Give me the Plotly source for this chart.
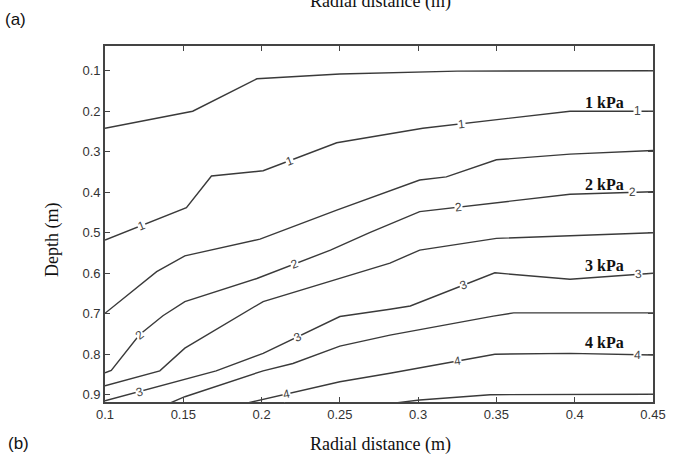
import numpy as np
import plotly.graph_objects as go

# Contour lines of induced stress (kPa): radial distance (m) vs depth (m)
r_05 = [0.10, 0.156, 0.197, 0.25, 0.325, 0.45]
d_05 = [0.242, 0.200, 0.120, 0.108, 0.101, 0.100]

r_1 = [0.10, 0.152, 0.168, 0.201, 0.248, 0.303, 0.397, 0.45]
d_1 = [0.518, 0.438, 0.360, 0.347, 0.278, 0.242, 0.200, 0.200]

r_15 = [0.10, 0.133, 0.151, 0.199, 0.248, 0.301, 0.318, 0.350, 0.397, 0.45]
d_15 = [0.699, 0.596, 0.557, 0.516, 0.444, 0.370, 0.362, 0.320, 0.306, 0.297]

r_2 = [0.10, 0.104, 0.122, 0.137, 0.151, 0.197, 0.244, 0.269, 0.301, 0.397, 0.45]
d_2 = [0.846, 0.840, 0.752, 0.705, 0.670, 0.613, 0.543, 0.500, 0.448, 0.405, 0.399]

r_25 = [0.10, 0.135, 0.151, 0.201, 0.282, 0.301, 0.350, 0.45]
d_25 = [0.878, 0.841, 0.785, 0.670, 0.575, 0.543, 0.514, 0.500]

r_3 = [0.10, 0.171, 0.201, 0.250, 0.282, 0.295, 0.349, 0.397, 0.45]
d_3 = [0.915, 0.841, 0.798, 0.707, 0.689, 0.681, 0.599, 0.615, 0.600]

r_35 = [0.140, 0.151, 0.201, 0.220, 0.250, 0.282, 0.348, 0.361, 0.45]
d_35 = [0.923, 0.905, 0.841, 0.823, 0.780, 0.753, 0.706, 0.698, 0.698]

r_4 = [0.188, 0.250, 0.282, 0.293, 0.349, 0.397, 0.45]
d_4 = [0.923, 0.868, 0.847, 0.839, 0.800, 0.798, 0.802]

r_45 = [0.28, 0.301, 0.346, 0.376, 0.45]
d_45 = [0.923, 0.913, 0.900, 0.900, 0.899]

contours = [(r_05, d_05), (r_1, d_1), (r_15, d_15), (r_2, d_2), (r_25, d_25),
            (r_3, d_3), (r_35, d_35), (r_4, d_4), (r_45, d_45)]

# In-line contour labels: (text, line index, radial position)
inline_labels = [
    ("1", 1, 0.123), ("1", 1, 0.218), ("1", 1, 0.328), ("1", 1, 0.440),
    ("2", 3, 0.122), ("2", 3, 0.221), ("2", 3, 0.326), ("2", 3, 0.437),
    ("3", 5, 0.122), ("3", 5, 0.223), ("3", 5, 0.329), ("3", 5, 0.441),
    ("4", 7, 0.216), ("4", 7, 0.325), ("4", 7, 0.440),
]

# Level annotations
kpa_text = ["1 kPa", "2 kPa", "3 kPa", "4 kPa"]
kpa_r = [0.419, 0.419, 0.419, 0.419]
kpa_d = [0.178, 0.380, 0.580, 0.770]

x_ticks = [0.1, 0.15, 0.2, 0.25, 0.3, 0.35, 0.4, 0.45]
x_ticktext = ["0.1", "0.15", "0.2", "0.25", "0.3", "0.35", "0.4", "0.45"]
y_ticks = [0.1, 0.2, 0.3, 0.4, 0.5, 0.6, 0.7, 0.8, 0.9]

W, H = 677, 457
ml, mr, mt, mb = 105, 24, 46, 55
pw, ph = W - ml - mr, H - mt - mb
x_range = [0.1, 0.45]
y_range = [0.918, 0.039]

px_per_x = pw / (x_range[1] - x_range[0])
px_per_y = ph / (y_range[0] - y_range[1])


def page_pos(px, py):
    """Page pixel position -> paper coordinates (relative to the plot area)."""
    return (px - ml) / pw, (H - mb - py) / ph


line_col = "#3a3a3a"
fig = go.Figure()
for r, d in contours:
    fig.add_trace(go.Scatter(x=r, y=d, mode="lines",
                             line=dict(color=line_col, width=1.4),
                             showlegend=False, hoverinfo="skip"))

annotations = []
for txt, idx, rx in inline_labels:
    r, d = contours[idx]
    dy = float(np.interp(rx, r, d))
    dy2 = float(np.interp(rx + 0.004, r, d))
    ang = np.degrees(np.arctan2((dy2 - dy) * px_per_y, 0.004 * px_per_x))
    annotations.append(dict(x=rx, y=dy, xref="x", yref="y", text=txt,
                            showarrow=False, textangle=float(ang),
                            font=dict(family="Liberation Sans", size=12, color="#444"),
                            bgcolor="white", borderpad=0))

for t, rx, dy in zip(kpa_text, kpa_r, kpa_d):
    annotations.append(dict(x=rx, y=dy, xref="x", yref="y", text="<b>" + t + "</b>",
                            showarrow=False,
                            font=dict(family="Liberation Serif", size=16, color="#111")))

# Panel tags, axis titles and the caption of the panel above (running off the page top)
page_texts = [
    ("(a)", 15, 20, "Liberation Sans", 17, 0),
    ("(b)", 18, 443, "Liberation Sans", 17, 0),
    ("Radial distance (m)", 380, 1, "Liberation Serif", 18, 0),
    ("Radial distance (m)", 380, 444, "Liberation Serif", 18, 0),
    ("Depth (m)", 52, 240, "Liberation Serif", 18, -90),
]
for txt, px, py, fam, size, ang in page_texts:
    xp, yp = page_pos(px, py)
    annotations.append(dict(x=xp, y=yp, xref="paper", yref="paper", text=txt,
                            showarrow=False, xanchor="center", yanchor="middle",
                            textangle=ang,
                            font=dict(family=fam, size=size, color="#111")))

fig.update_layout(
    width=W, height=H,
    margin=dict(l=ml, r=mr, t=mt, b=mb, autoexpand=False),
    paper_bgcolor="white", plot_bgcolor="white",
    annotations=annotations,
    xaxis=dict(range=x_range, tickvals=x_ticks, ticktext=x_ticktext,
               ticks="inside", ticklen=5, tickcolor="#444",
               showline=True, linecolor="#444", linewidth=1.6, mirror="ticks",
               showgrid=False, zeroline=False, automargin=False,
               tickfont=dict(family="Liberation Sans", size=13, color="#333")),
    yaxis=dict(range=y_range, tickvals=y_ticks, tickformat=".1f",
               ticks="inside", ticklen=5, tickcolor="#444",
               showline=True, linecolor="#444", linewidth=1.6, mirror="ticks",
               showgrid=False, zeroline=False, automargin=False,
               tickfont=dict(family="Liberation Sans", size=13, color="#333")),
)

fig.write_html("out.html")
